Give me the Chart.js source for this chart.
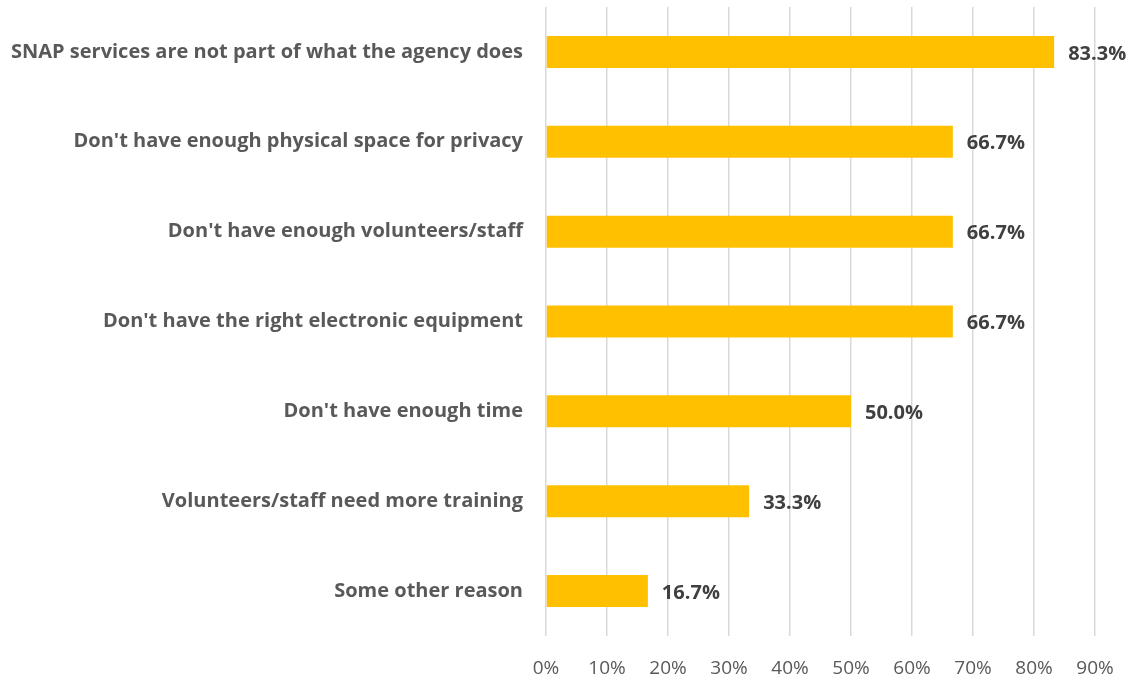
<!DOCTYPE html>
<html>
<head>
<meta charset="utf-8">
<script src="https://cdn.jsdelivr.net/npm/chart.js@4"></script>
<style>
  html, body { margin: 0; padding: 0; background: #ffffff; }
  #wrap { position: relative; width: 1134px; height: 680px; }
</style>
</head>
<body>
<div id="wrap"><canvas id="c" width="1134" height="680"></canvas></div>
<script>
const categories = [
  "SNAP services are not part of what the agency does",
  "Don't have enough physical space for privacy",
  "Don't have enough volunteers/staff",
  "Don't have the right electronic equipment",
  "Don't have enough time",
  "Volunteers/staff need more training",
  "Some other reason"
];
const values = [83.3, 66.7, 66.7, 66.7, 50.0, 33.3, 16.7];
const tickValues = [0, 10, 20, 30, 40, 50, 60, 70, 80, 90];

const FONT = "'Open Sans', sans-serif";

const valueLabels = {
  id: 'valueLabels',
  afterDatasetsDraw(chart) {
    const ctx = chart.ctx;
    const meta = chart.getDatasetMeta(0);
    ctx.save();
    ctx.font = "bold 20px " + FONT;
    ctx.fillStyle = "#404040";
    ctx.textAlign = "left";
    ctx.textBaseline = "middle";
    meta.data.forEach((bar, i) => {
      ctx.fillText(values[i].toFixed(1) + "%", bar.x + 14, bar.y + 2);
    });
    ctx.restore();
  }
};

new Chart(document.getElementById('c'), {
  type: 'bar',
  data: {
    labels: categories,
    datasets: [{
      data: values,
      backgroundColor: "#FFC000",
      borderWidth: 0,
      categoryPercentage: 1,
      barPercentage: 0.356
    }]
  },
  options: {
    indexAxis: 'y',
    responsive: false,
    animation: false,
    layout: { padding: { left: 0, right: 39, top: 7, bottom: 0 } },
    plugins: { legend: { display: false }, tooltip: { enabled: false } },
    scales: {
      x: {
        min: 0, max: 90,
        afterBuildTicks(scale) { scale.ticks = tickValues.map(v => ({ value: v })); },
        afterFit(scale) { scale.height = 44; scale.paddingLeft = 0; scale.paddingRight = 0; },
        grid: { color: "#d9d9d9", lineWidth: 1.5, drawTicks: false },
        border: { display: false },
        ticks: {
          padding: 21,
          color: "#595959",
          font: { family: FONT, size: 19 },
          callback: v => v + "%"
        }
      },
      y: {
        afterFit(scale) { scale.width = 546; scale.paddingTop = 0; scale.paddingBottom = 0; },
        grid: { display: false, drawTicks: false },
        border: { display: false },
        ticks: {
          padding: 23,
          color: "#595959",
          font: { family: FONT, size: 20, weight: 'bold' }
        }
      }
    }
  },
  plugins: [valueLabels]
});
</script>
</body>
</html>
